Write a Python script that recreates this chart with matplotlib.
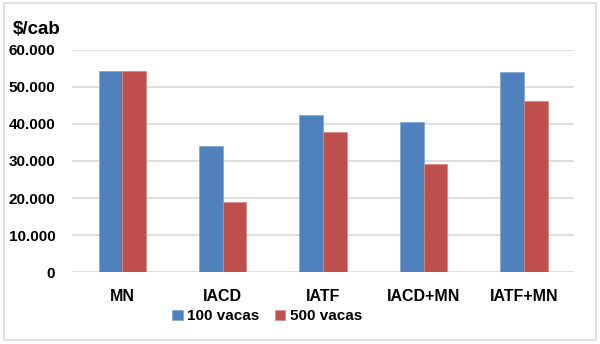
import matplotlib
matplotlib.use("Agg")
import matplotlib.pyplot as plt
import numpy as np
from matplotlib.patches import Rectangle

categories = ["MN", "IACD", "IATF", "IACD+MN", "IATF+MN"]
vacas_100 = [54300, 34000, 42400, 40600, 54000]
vacas_500 = [54300, 19000, 37800, 29200, 46300]
series_labels = ["100 vacas", "500 vacas"]
yticks = [0, 10000, 20000, 30000, 40000, 50000, 60000]
ytick_labels = ["0", "10.000", "20.000", "30.000", "40.000", "50.000", "60.000"]

plt.rcParams['font.family'] = ['Liberation Sans', 'DejaVu Sans']

fig = plt.figure(figsize=(6, 3.44), dpi=100)
fig.patches.append(Rectangle((0.006, 0.012), 0.988, 0.978, transform=fig.transFigure,
                             fill=False, edgecolor="#D9D9D9", linewidth=1.2))
ax = fig.add_axes([0.12, 0.209, 0.837, 0.646])

x = np.arange(len(categories))
w = 0.235
ax.bar(x - w/2, vacas_100, w, color="#4F81BD", edgecolor="#7FA3D0", linewidth=0.5,
       label=series_labels[0], zorder=3)
ax.bar(x + w/2, vacas_500, w, color="#C0504D", edgecolor="#D98582", linewidth=0.5,
       label=series_labels[1], zorder=3)

ax.set_xlim(-0.5, 4.5)
ax.set_ylim(0, 60000)
ax.set_yticks(yticks)
ax.set_yticklabels(ytick_labels, fontsize=11, fontweight="bold")
ax.set_xticks(x)
ax.set_xticklabels(categories, fontsize=11.5, fontweight="bold")
ax.tick_params(axis="y", length=0, pad=12)
ax.tick_params(axis="x", length=0, pad=12)
ax.grid(axis="y", color="#D9D9D9", linewidth=1.2, zorder=0)
for s in ax.spines.values():
    s.set_visible(False)

fig.text(0.022, 0.915, "$/cab", fontsize=13.5, fontweight="bold", ha="left", va="center")

leg = fig.legend(loc="center", bbox_to_anchor=(0.445, 0.08), ncol=2, frameon=False,
                 prop={"size": 11, "weight": "bold"}, handlelength=0.7, handleheight=0.7,
                 handletextpad=0.3, columnspacing=1.0)

fig.savefig("out.png", dpi=100)
